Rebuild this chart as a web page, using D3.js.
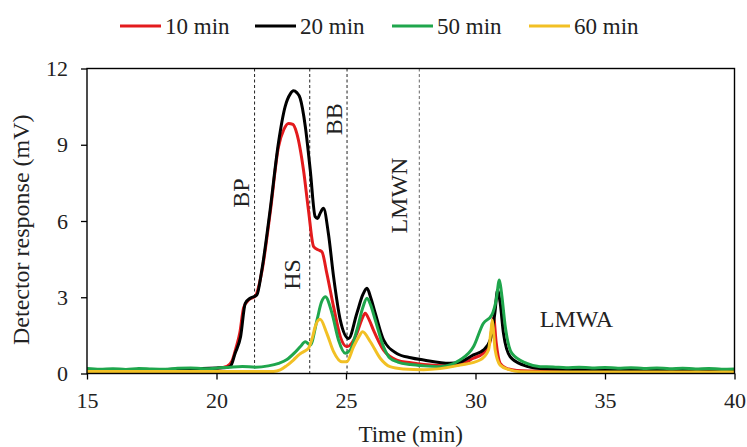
<!DOCTYPE html>
<html>
<head>
<meta charset="utf-8">
<script src="https://cdn.jsdelivr.net/npm/d3@7"></script>
<style>
  html, body { margin: 0; padding: 0; background: #fff; }
  svg { display: block; font-family: "Liberation Serif", "Times New Roman", serif; }
</style>
</head>
<body>
<svg id="chart" width="747" height="447"></svg>
<script>
// Elution times (min) and detector response (mV) for each hydrolysis time
const time10 = [15, 17, 19, 20, 20.4, 20.6, 20.75, 20.9, 21.05, 21.25, 21.5, 21.75, 22.07, 22.39, 22.6, 22.78, 22.95, 23.1, 23.36, 23.55, 23.75, 23.94, 24.07, 24.26, 24.52, 24.78, 25.03, 25.42, 25.6, 25.74, 25.9, 26.06, 26.45, 26.96, 27.5, 28, 29, 29.4, 29.92, 30.3, 30.55, 30.7, 30.8, 30.95, 31.2, 31.6, 32.5, 34, 40];
const resp10 = [0.12, 0.12, 0.15, 0.2, 0.28, 0.5, 1.0, 1.6, 2.6, 2.9, 3.05, 4.0, 6.3, 8.9, 9.6, 9.84, 9.8, 9.45, 8.0, 6.43, 4.99, 4.86, 4.79, 3.94, 2.63, 1.45, 1.05, 1.58, 2.1, 2.37, 2.1, 1.71, 0.92, 0.53, 0.42, 0.35, 0.3, 0.35, 0.6, 0.8, 1.2, 2.2, 1.2, 0.4, 0.2, 0.12, 0.1, 0.1, 0.1];

const time20 = [15, 17, 19, 20, 20.4, 20.55, 20.72, 20.93, 21.11, 21.3, 21.56, 21.75, 22.07, 22.39, 22.65, 22.85, 22.97, 23.1, 23.23, 23.43, 23.62, 23.81, 23.9, 24.0, 24.13, 24.32, 24.52, 24.78, 25.1, 25.42, 25.65, 25.81, 25.95, 26.13, 26.45, 26.96, 27.5, 28, 29, 29.4, 29.92, 30.3, 30.57, 30.75, 30.85, 30.95, 31.08, 31.34, 31.85, 32.5, 34, 36, 38, 40];
const resp20 = [0.15, 0.15, 0.18, 0.22, 0.24, 0.3, 0.8, 1.45, 2.76, 2.96, 3.09, 4.07, 6.43, 9.06, 10.5, 11.0, 11.12, 11.05, 10.83, 9.71, 8.0, 6.17, 6.1, 6.3, 6.5, 5.51, 3.81, 2.1, 1.38, 2.37, 3.1, 3.35, 3.0, 2.37, 1.32, 0.79, 0.62, 0.53, 0.4, 0.45, 0.73, 0.92, 1.32, 2.4, 3.28, 2.8, 1.58, 0.66, 0.33, 0.2, 0.15, 0.12, 0.12, 0.12];

const time50 = [15, 15.5, 16, 16.5, 17, 17.5, 18, 18.5, 19, 19.5, 20, 20.5, 21, 21.5, 22, 22.4, 22.72, 23.0, 23.23, 23.43, 23.62, 23.88, 24.05, 24.2, 24.46, 24.71, 24.97, 25.16, 25.42, 25.65, 25.81, 25.95, 26.13, 26.45, 26.7, 27, 27.5, 28, 28.63, 29.4, 29.92, 30.3, 30.63, 30.8, 30.92, 31.0, 31.15, 31.4, 31.98, 32.5, 33, 33.5, 34, 34.5, 35, 35.5, 36, 36.5, 37, 37.5, 38, 38.5, 39, 39.5, 40];
const resp50 = [0.2, 0.17, 0.19, 0.16, 0.2, 0.18, 0.17, 0.21, 0.22, 0.19, 0.21, 0.25, 0.28, 0.25, 0.3, 0.4, 0.55, 0.8, 1.05, 1.25, 1.12, 2.1, 2.8, 3.02, 2.37, 1.32, 0.8, 0.92, 1.71, 2.6, 2.96, 2.7, 2.1, 1.05, 0.6, 0.45, 0.35, 0.3, 0.27, 0.53, 1.05, 1.97, 2.3, 2.9, 3.68, 3.2, 1.84, 0.8, 0.4, 0.27, 0.26, 0.23, 0.25, 0.22, 0.24, 0.21, 0.23, 0.2, 0.22, 0.19, 0.21, 0.18, 0.2, 0.17, 0.18];

const time60 = [15, 18, 21, 22.2, 22.46, 22.7, 22.97, 23.2, 23.36, 23.55, 23.7, 23.81, 24.0, 24.26, 24.52, 24.84, 25.03, 25.29, 25.5, 25.64, 25.94, 26.32, 26.7, 27.2, 28, 29.4, 30.17, 30.5, 30.6, 30.65, 30.7, 30.76, 30.95, 31.3, 31.72, 33, 40];
const resp60 = [0.08, 0.08, 0.08, 0.08, 0.14, 0.3, 0.53, 0.75, 0.86, 0.99, 1.4, 1.84, 2.13, 1.58, 0.86, 0.46, 0.46, 1.05, 1.45, 1.64, 1.25, 0.6, 0.27, 0.18, 0.15, 0.33, 0.53, 0.92, 1.7, 2.1, 1.6, 0.92, 0.33, 0.15, 0.07, 0.06, 0.06];

const seriesNames = ["10 min", "20 min", "50 min", "60 min"];
const seriesColors = ["#e31b1d", "#000000", "#1fa64c", "#f2c024"];

// Fraction boundaries (min) and their labels
const boundaryTimes = [21.47, 23.6, 25.04, 27.83];
const regionLabels = ["BP", "HS", "BB", "LMWN", "LMWA"];
const regionLabelTimes = [20.95, 22.9, 24.55, 27.05, 33.9];
const regionLabelValues = [7.1, 3.9, 10.0, 7.0, 2.14];

const xTicks = [15, 20, 25, 30, 35, 40];
const yTicks = [0, 3, 6, 9, 12];

const series = [
  { name: seriesNames[0], color: seriesColors[0], t: time10, v: resp10 },
  { name: seriesNames[1], color: seriesColors[1], t: time20, v: resp20 },
  { name: seriesNames[2], color: seriesColors[2], t: time50, v: resp50 },
  { name: seriesNames[3], color: seriesColors[3], t: time60, v: resp60 }
];

const svg = d3.select("#chart");
const plotLeft = 87, plotRight = 734.5, plotTop = 68.5, plotBottom = 373.5;

const x = d3.scaleLinear().domain([15, 40]).range([plotLeft, plotRight]);
const y = d3.scaleLinear().domain([0, 12]).range([plotBottom, plotTop]);

svg.append("defs").append("clipPath").attr("id", "plotClip")
  .append("rect").attr("x", plotLeft).attr("y", plotTop - 2)
  .attr("width", plotRight - plotLeft).attr("height", plotBottom - plotTop + 2);

// Fraction boundaries
svg.append("g").selectAll("line").data(boundaryTimes).join("line")
  .attr("x1", d => x(d)).attr("x2", d => x(d))
  .attr("y1", plotTop).attr("y2", plotBottom)
  .attr("stroke", (d, i) => i === 3 ? "#666" : "#222")
  .attr("stroke-width", 1)
  .attr("stroke-dasharray", "3,2.5");

// Chromatograms
const line = d3.line()
  .x(d => x(d[0])).y(d => y(d[1]))
  .curve(d3.curveMonotoneX);

svg.append("g").attr("clip-path", "url(#plotClip)")
  .selectAll("path").data(series).join("path")
  .attr("d", s => line(s.t.map((t, i) => [t, s.v[i]])))
  .attr("fill", "none")
  .attr("stroke", s => s.color)
  .attr("stroke-width", 3)
  .attr("stroke-linejoin", "round")
  .attr("stroke-linecap", "round");

// Axes
const xAxis = svg.append("g").attr("transform", `translate(0,${plotBottom})`)
  .call(d3.axisBottom(x).tickValues(xTicks).tickSize(6).tickPadding(13).tickSizeOuter(0));
const yAxis = svg.append("g").attr("transform", `translate(${plotLeft},0)`)
  .call(d3.axisLeft(y).tickValues(yTicks).tickSize(6).tickPadding(13).tickSizeOuter(0));
[xAxis, yAxis].forEach(g => {
  g.select(".domain").remove();
  g.selectAll(".tick line").attr("stroke", "#000").attr("stroke-width", 1.3);
  g.selectAll("text").attr("font-family", "Liberation Serif, serif")
    .attr("font-size", 22).attr("fill", "#222");
});

// Plot frame
svg.append("rect")
  .attr("x", plotLeft).attr("y", plotTop)
  .attr("width", plotRight - plotLeft).attr("height", plotBottom - plotTop)
  .attr("fill", "none").attr("stroke", "#000").attr("stroke-width", 1.4);

// Axis titles
svg.append("text")
  .attr("x", (plotLeft + plotRight) / 2).attr("y", 442)
  .attr("text-anchor", "middle").attr("font-size", 23).attr("fill", "#222")
  .text("Time (min)");
svg.append("text")
  .attr("transform", "translate(29,345) rotate(-90)")
  .attr("text-anchor", "start").attr("font-size", 24).attr("fill", "#222")
  .text("Detector response (mV)");

// Fraction labels (vertical except the last one)
svg.append("g").selectAll("text").data(regionLabels).join("text")
  .attr("transform", (d, i) => {
    const px = x(regionLabelTimes[i]), py = y(regionLabelValues[i]);
    return i < 4 ? `translate(${px},${py}) rotate(-90)` : `translate(${px},${py})`;
  })
  .attr("text-anchor", "middle")
  .attr("dominant-baseline", "central")
  .attr("font-size", 24).attr("fill", "#222")
  .text(d => d);

// Legend
const legendLineX = [120, 255, 392, 529];
const legend = svg.append("g").selectAll("g").data(series).join("g")
  .attr("transform", (d, i) => `translate(${legendLineX[i]},26)`);
legend.append("line")
  .attr("x1", 0).attr("x2", 41).attr("y1", 0).attr("y2", 0)
  .attr("stroke", d => d.color).attr("stroke-width", 3);
legend.append("text")
  .attr("x", 45).attr("y", 0).attr("dy", "0.33em")
  .attr("font-size", 23).attr("fill", "#222")
  .text(d => d.name);
</script>
</body>
</html>
